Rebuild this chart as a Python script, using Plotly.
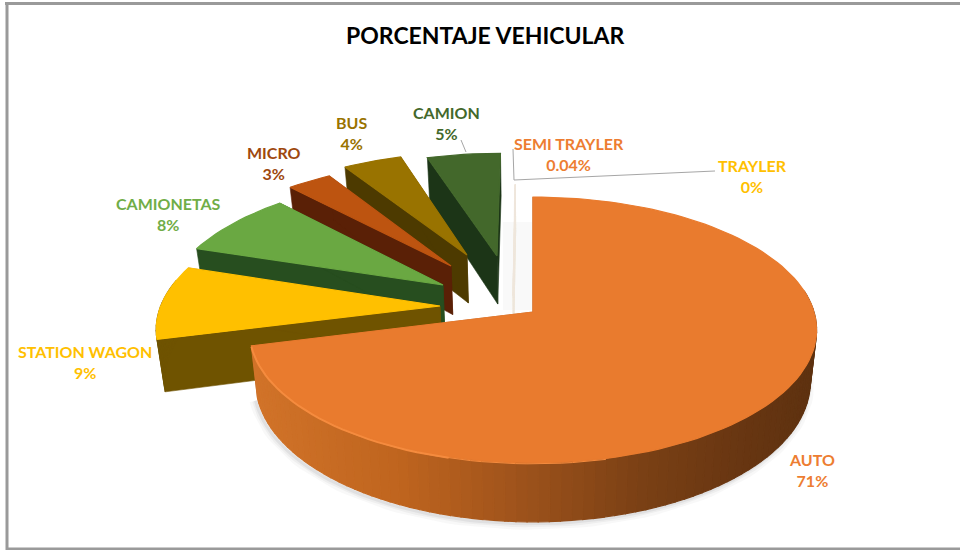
import numpy as np
import plotly.graph_objects as go

# slices, clockwise from 12 o'clock
labels = ['AUTO', 'STATION WAGON', 'CAMIONETAS', 'MICRO', 'BUS', 'CAMION', 'SEMI TRAYLER', 'TRAYLER']
values = [71, 9, 8, 3, 4, 5, 0.04, 0]

top_colors = ['#E97B2E', '#FFC000', '#6AA842', '#BD5410', '#997300', '#43682B', '#EFE6DC', '#EFE9D8']
wall_colors = ['#A0541C', '#6F5300', '#274E1F', '#5A2006', '#4D3A00', '#1C3517', '#EFE6DC', '#EFE9D8']
text_colors = ['#ED7D31', '#FFC000', '#70AD47', '#9E480E', '#997300', '#43682B', '#ED7D31', '#FFC000']

# where each exploded slice has its tip, in page pixels
tip_x = [533, 440, 443, 451, 467, 497, 513, 513]
tip_y = [312, 306, 285, 266, 255, 256, 296, 296]

label_x = [812, 85, 168, 274, 351, 446, 569, 752]
label_y = [470, 362, 214, 163, 133, 123, 154, 176]

# 3d view of the pie: a tilted disc seen in perspective
CX, CY, RX, RY, K = 533, 312, 281, 130.5, 0.135
WALL, VANISH_X, BASE_SCALE = 51, 530, 0.978

# orange rim goes from lit on the left to dark on the right
rim_x = [250, 400, 520, 650, 750, 820]
rim_rgb = [(210, 116, 42), (192, 101, 31), (160, 84, 28), (122, 64, 21), (104, 54, 18), (94, 50, 16)]


def project(u, v):
    d = 1 + K * v
    return CX + RX * u / d, CY - RY * v / d


def unproject(sx, sy):
    a, b = (sx - CX) / RX, (CY - sy) / RY
    v = b / (1 - K * b)
    return a * (1 + K * v), v


def drop(sx, sy, v):
    return VANISH_X + (sx - VANISH_X) * BASE_SCALE, sy + WALL / (1 + K * v)


def poly(fig, xs, ys, color, edge=0.6):
    fig.add_trace(go.Scatter(
        x=xs, y=ys, mode='lines', fill='toself', fillcolor=color,
        line=dict(color=color, width=edge), hoverinfo='skip', showlegend=False
    ))


def rim_color(sx):
    chan = [np.interp(sx, rim_x, [c[i] for c in rim_rgb]) for i in range(3)]
    return 'rgb(%d,%d,%d)' % tuple(chan)


def draw_slice(fig, i, start, end):
    u0, v0 = unproject(tip_x[i], tip_y[i])
    n = max(2, int((end - start) / 2) + 1)
    deg = np.linspace(start, end, n)
    ang = np.radians(deg)
    u = u0 + np.sin(ang)
    v = v0 + np.cos(ang)
    sx, sy = project(u, v)
    bx, by = drop(sx, sy, v)
    tx, ty = project(u0, v0)
    tbx, tby = drop(tx, ty, v0)

    if i == 0:
        # soft shadow under the big slice, front part only
        vis = np.cos(ang) < 0.1
        for w, a in [(12, 0.05), (7, 0.07), (3, 0.10)]:
            fig.add_trace(go.Scatter(
                x=bx[vis] - 2, y=by[vis] + 2, mode='lines', line=dict(color=f'rgba(110,110,120,{a})', width=w),
                hoverinfo='skip', showlegend=False
            ))

    # cut faces
    poly(fig, [tx, sx[0], bx[0], tbx, tx], [ty, sy[0], by[0], tby, ty], wall_colors[i])
    poly(fig, [tx, sx[-1], bx[-1], tbx, tx], [ty, sy[-1], by[-1], tby, ty], wall_colors[i])

    # outer rim, only the part facing the viewer
    for j in range(n - 1):
        if np.cos(ang[j]) > 0.2:
            continue
        c = rim_color(sx[j]) if i == 0 else wall_colors[i]
        poly(fig, [sx[j], sx[j + 1], bx[j + 1], bx[j], sx[j]],
             [sy[j], sy[j + 1], by[j + 1], by[j], sy[j]], c, edge=1.2)

    # top face
    poly(fig, [tx, *sx, tx], [ty, *sy, ty], top_colors[i], edge=1.2)

    if i == 0:
        # light bevel along the front left edge, thinning out to the right
        for lo, width in [(165, 1), (195, 2)]:
            part = deg > lo
            fig.add_trace(go.Scatter(
                x=sx[part], y=sy[part] + 1, mode='lines', line=dict(color='#F58B3E', width=width),
                hoverinfo='skip', showlegend=False
            ))


fig = go.Figure()

# faint shadow seen through the gap behind the big slice
fig.add_shape(type='rect', x0=503, x1=532, y0=222, y1=310, fillcolor='rgba(200,200,200,0.10)', line_width=0, layer='below')

total = sum(values)
stops = np.cumsum([0] + values) / total * 360
for i in range(len(values) - 1, -1, -1):
    draw_slice(fig, i, stops[i], stops[i + 1])

for i in range(len(labels)):
    fig.add_annotation(
        x=label_x[i], y=label_y[i], text=f'<b>{labels[i]}<br>{values[i]:g}%</b>',
        showarrow=False, align='center',
        font=dict(family='Lato', size=16, color=text_colors[i])
    )

fig.add_annotation(
    x=485, y=35, text='<b>PORCENTAJE VEHICULAR</b>', showarrow=False,
    font=dict(family='Lato', size=23, color='#000000')
)

# leader lines
for x0, y0, x1, y1 in [(513, 149, 514, 180), (514, 180, 715, 171), (461, 140, 466, 152)]:
    fig.add_shape(type='line', x0=x0, y0=y0, x1=x1, y1=y1, line=dict(color='#A6A6A6', width=1))

# chart frame
for x0, y0, x1, y1 in [(5, 3.5, 960, 3.5), (7, 3, 7, 550), (7, 549, 960, 549)]:
    fig.add_shape(type='line', x0=x0, y0=y0, x1=x1, y1=y1, line=dict(color='#9A9A9A', width=3))

fig.update_layout(
    width=960, height=550,
    margin=dict(l=0, r=0, t=0, b=0),
    paper_bgcolor='white', plot_bgcolor='white',
    xaxis=dict(range=[0, 960], visible=False),
    yaxis=dict(range=[550, 0], visible=False),
    showlegend=False
)

# page default margin would push the chart 8px in
fig.write_html("out.html", post_script="document.body.style.margin='0';",
               config={'displayModeBar': False})
